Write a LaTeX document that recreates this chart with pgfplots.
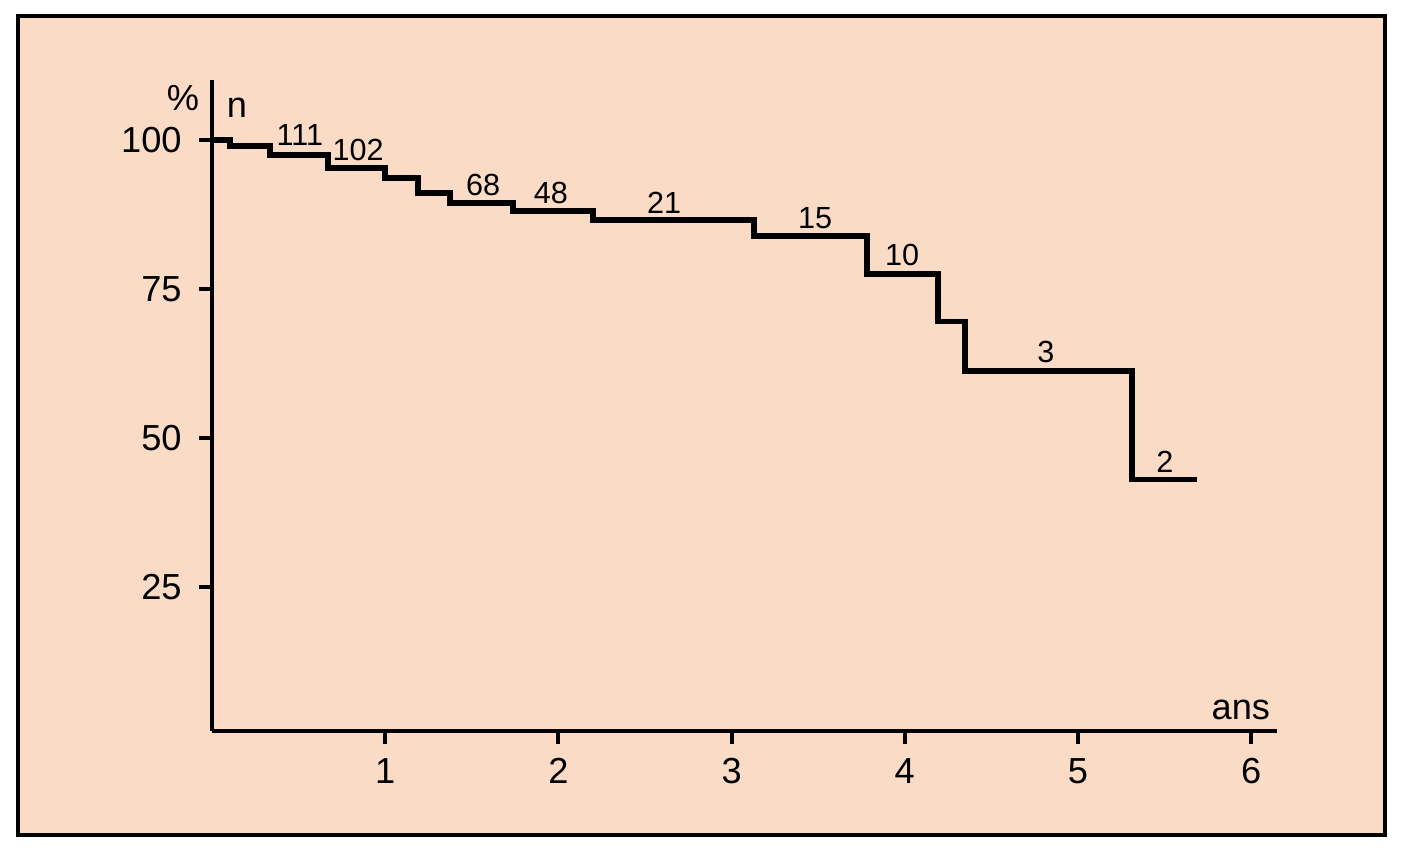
\documentclass[border=0pt]{standalone}
\usepackage{pgfplots}
\pgfplotsset{compat=1.18}
\usepackage{fontspec}
\setmainfont{Liberation Sans}
\definecolor{peach}{RGB}{249,219,198}
\begin{document}
\begin{tikzpicture}
\fill[white] (-2.12,-1.21) rectangle (11.92,7.31);
\filldraw[fill=peach, draw=black, line width=0.9pt] (-1.94,-1.04) rectangle (11.73,7.15);
\begin{axis}[
  at={(0,0)}, anchor=south west,
  x=1.732cm, y=0.0596cm,
  xmin=0, xmax=6.15, ymin=0.8, ymax=110,
  axis lines*=left,
  axis line style={line width=1.1pt},
  clip=false,
  xtick={1,2,3,4,5,6},
  ytick={25,50,75,100},
  tick align=outside,
  major tick length=0.13cm,
  tick style={line width=1.1pt, black},
  every tick label/.append style={font=\fontsize{10.3}{12}\selectfont},
  /pgf/number format/assume math mode=true,
  yticklabel style={xshift=-0.05cm},
  xticklabel style={yshift=-0.02cm},
]
\addplot[const plot, black, line width=1.65pt] coordinates {
(0,100) (0.104,99.0) (0.335,97.5) (0.670,95.3) (1.0,93.6) (1.189,91.1)
(1.374,89.4) (1.738,88.1) (2.200,86.6) (3.129,83.9) (3.782,77.5)
(4.192,69.5) (4.348,61.2) (5.312,43.0) (5.687,43.0)
};
\begin{scope}[every node/.style={font=\fontsize{8.7}{10}\selectfont, inner sep=0pt}]
\node at (axis cs:0.508,100.8) {111};
\node at (axis cs:0.843,98.3) {102};
\node at (axis cs:1.565,92.4) {68};
\node at (axis cs:1.957,91.1) {48};
\node at (axis cs:2.610,89.4) {21};
\node at (axis cs:3.482,86.9) {15};
\node at (axis cs:3.984,80.7) {10};
\node at (axis cs:4.815,64.4) {3};
\node at (axis cs:5.502,46.0) {2};
\end{scope}
\node[font=\fontsize{10.3}{12}\selectfont, inner sep=0pt] at (axis cs:-0.167,107) {\%};
\node[font=\fontsize{10.3}{12}\selectfont, inner sep=0pt] at (axis cs:0.144,105.4) {n};
\node[font=\fontsize{10.3}{12}\selectfont, inner sep=0pt] at (axis cs:5.94,4.4) {ans};
\end{axis}
\end{tikzpicture}
\end{document}
